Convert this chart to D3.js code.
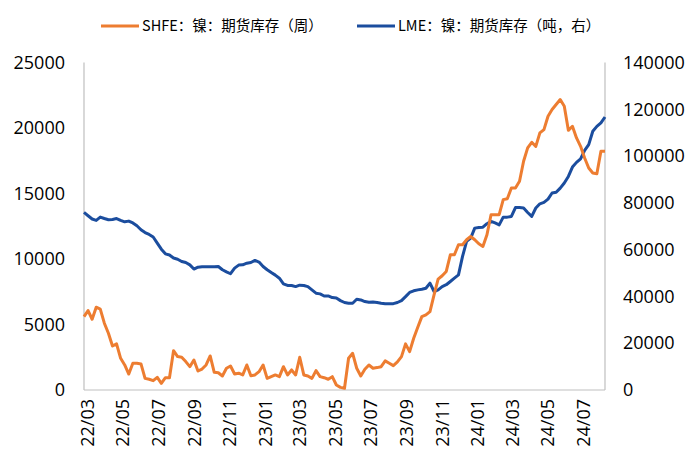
<!DOCTYPE html>
<html>
<head>
<meta charset="utf-8">
<script src="https://cdn.jsdelivr.net/npm/d3@7"></script>
<style>
  html, body { margin: 0; padding: 0; background: #fff; }
  svg { display: block; }
  text { font-family: "Open Sans", "Noto Sans", sans-serif; fill: #000; }
  .legend text { font-family: "Noto Sans CJK SC", "Noto Sans", sans-serif; }
</style>
</head>
<body>
<svg id="chart" width="700" height="466"></svg>
<script>
// ---------------- data ----------------
const startDate = "2022-03-04";      // first weekly observation
const seriesNames = ["SHFE：镍：期货库存（周）", "LME：镍：期货库存（吨，右）"];
const tickLabels = ["22/03","22/05","22/07","22/09","22/11","23/01","23/03","23/05",
                    "23/07","23/09","23/11","24/01","24/03","24/05","24/07"];
const leftTicks = [0, 5000, 10000, 15000, 20000, 25000];
const rightTicks = [0, 20000, 40000, 60000, 80000, 100000, 120000, 140000];

const shfe = [5600,6060,5400,6320,6170,5100,4330,3360,3520,2420,
  1910,1220,2040,2040,1990,890,820,710,970,510,
  940,940,3000,2550,2500,2170,1780,2290,1450,1600,
  1910,2600,1350,1320,1070,1660,1830,1220,1280,1150,
  1910,1090,1150,1400,1910,890,1020,1150,1020,1780,
  1150,1530,1150,2500,1150,1070,890,1480,1020,940,
  820,1020,380,200,130,2420,2800,1660,1070,1580,
  1910,1660,1710,1780,2220,2040,1860,2140,2550,3520,
  2930,3950,4790,5600,5730,5990,7260,8460,8720,9050,
  10320,10320,11090,11090,11470,11720,11470,11160,10960,11850,
  13380,13380,13380,14530,14600,15420,15420,15930,17460,18480,
  18910,18600,19630,19880,20900,21410,21790,22170,21660,19820,
  20130,19240,18600,17710,16950,16570,16510,18220,18220];

const lme = [75900,74500,73100,72500,73900,73300,72800,72900,73300,72500,
  71900,72200,71400,70200,68500,67300,66500,65400,62800,60200,
  58200,57700,56400,55900,54900,54500,53500,51700,52500,52700,
  52700,52700,52700,52800,51400,50500,49700,52100,53400,53500,
  54200,54500,55400,54700,52800,51400,50200,49100,47800,45400,
  44700,44700,44200,44800,44700,44200,42800,41400,41100,40200,
  40200,39500,39300,38200,37400,37100,37100,38800,38500,37800,
  37500,37600,37400,37100,36900,36900,36900,37400,38200,39900,
  41700,42400,42800,43100,43500,45700,42100,42800,44200,45000,
  46400,47800,49200,57100,63500,64900,69200,69500,69600,71100,
  72100,71400,70600,73900,73900,74200,78000,78000,77800,75900,
  74200,77800,79600,80200,81600,84200,84500,86300,88500,91300,
  95300,97300,98800,102400,104900,110600,112700,114200,116700];

// ---------------- chart ----------------
const svg = d3.select("#chart");
const X0 = 84, X1 = 605, Y0 = 390, Y1 = 62.5;
const orange = "#ED7D31", blue = "#1B4D9E", axisGrey = "#BFBFBF";

const parseDay = d3.timeParse("%Y-%m-%d");
const parseTick = d3.timeParse("%y/%m");
const t0 = parseDay(startDate);
const dates = shfe.map((_, i) => d3.timeDay.offset(t0, 7 * i));

const x = d3.scaleTime().domain([dates[0], dates[dates.length - 1]]).range([X0, X1]);
const yL = d3.scaleLinear().domain([0, 25000]).range([Y0, Y1]);
const yR = d3.scaleLinear().domain([0, 140000]).range([Y0, Y1]);

// axes lines
svg.append("line").attr("x1", X0).attr("x2", X0).attr("y1", Y1).attr("y2", Y0)
  .attr("stroke", axisGrey).attr("stroke-width", 1.2);
svg.append("line").attr("x1", X1).attr("x2", X1).attr("y1", Y1).attr("y2", Y0)
  .attr("stroke", axisGrey).attr("stroke-width", 1.2);
svg.append("line").attr("x1", X0).attr("x2", X1).attr("y1", Y0).attr("y2", Y0)
  .attr("stroke", axisGrey).attr("stroke-width", 1.2);

// left axis labels
const gL = svg.append("g").attr("transform", `translate(${X0},0)`)
  .call(d3.axisLeft(yL).tickValues(leftTicks).tickSize(0).tickPadding(19).tickFormat(d3.format("d")));
gL.select(".domain").remove();
gL.selectAll("text").style("font-size", "18px").attr("fill", "#000");

// right axis labels
const gR = svg.append("g").attr("transform", `translate(${X1},0)`)
  .call(d3.axisRight(yR).tickValues(rightTicks).tickSize(0).tickPadding(18).tickFormat(d3.format("d")));
gR.select(".domain").remove();
gR.selectAll("text").style("font-size", "18px").attr("fill", "#000");

// bottom axis labels (rotated)
const gB = svg.append("g").attr("transform", `translate(0,${Y0})`)
  .call(d3.axisBottom(x).tickValues(tickLabels.map(parseTick)).tickSize(0)
    .tickFormat(d3.timeFormat("%y/%m")));
gB.select(".domain").remove();
gB.selectAll("text")
  .style("font-size", "18px").attr("fill", "#000")
  .attr("text-anchor", "end")
  .attr("transform", "rotate(-90)")
  .attr("x", -9).attr("y", 0).attr("dy", "0.62em");

// lines
const lineL = d3.line().x((d, i) => x(dates[i])).y(d => yL(d));
const lineR = d3.line().x((d, i) => x(dates[i])).y(d => yR(d));

svg.append("path").datum(lme).attr("d", lineR)
  .attr("fill", "none").attr("stroke", blue).attr("stroke-width", 3)
  .attr("stroke-linejoin", "round");
svg.append("path").datum(shfe).attr("d", lineL)
  .attr("fill", "none").attr("stroke", orange).attr("stroke-width", 3)
  .attr("stroke-linejoin", "round");

// legend
const legend = svg.append("g").attr("class", "legend");
const legItems = [
  { name: seriesNames[0], color: orange, x: 101 },
  { name: seriesNames[1], color: blue, x: 357 }
];
legItems.forEach(it => {
  legend.append("line").attr("x1", it.x).attr("x2", it.x + 38)
    .attr("y1", 26).attr("y2", 26).attr("stroke", it.color).attr("stroke-width", 3);
  legend.append("text").attr("x", it.x + 41).attr("y", 26).attr("dy", "0.35em")
    .style("font-size", "14.5px").text(it.name);
});
</script>
</body>
</html>
